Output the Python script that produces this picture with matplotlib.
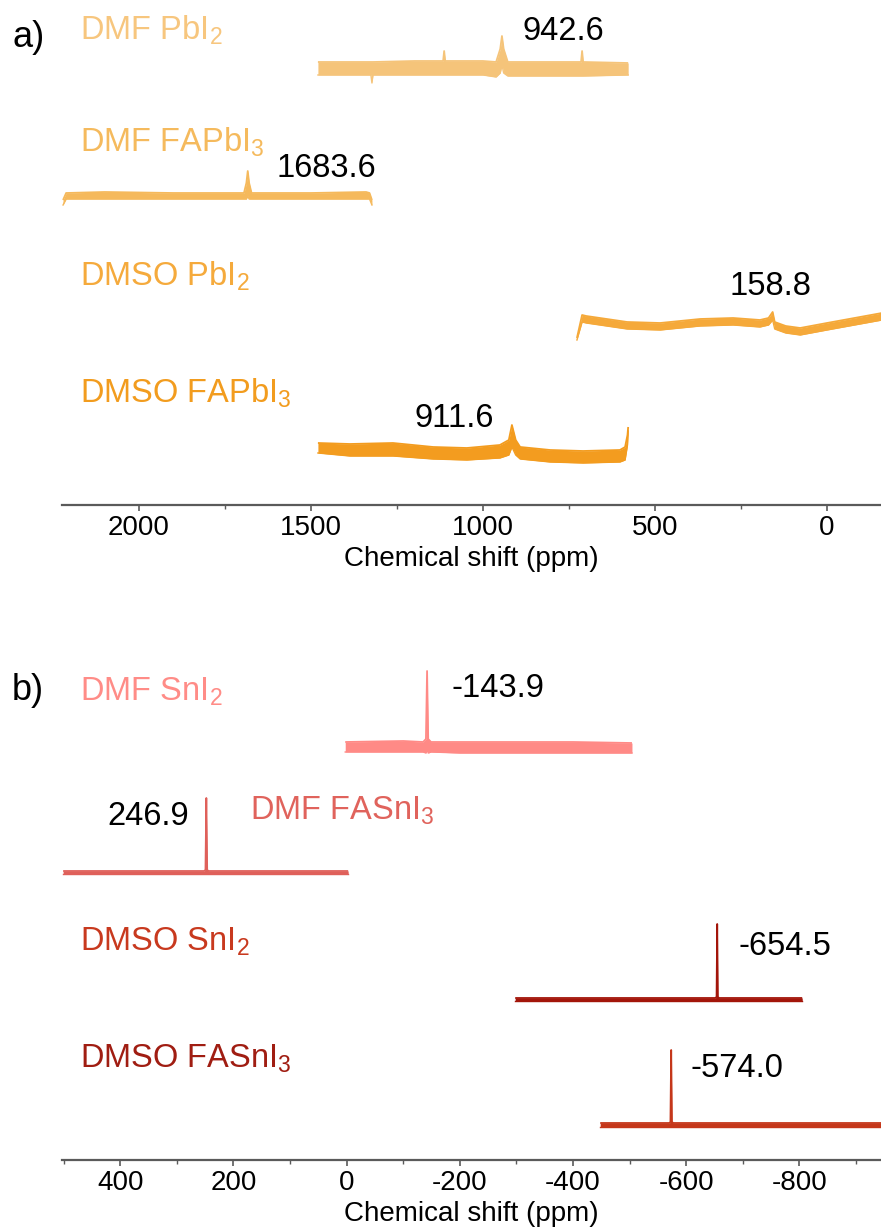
#!/usr/bin/env python3
"""
plot.py — stacked 207Pb / 119Sn NMR spectra of the precursor solutions.

Panel a) Pb spectra, panel b) Sn spectra; each trace is drawn as a noise band
(upper/lower envelope read off the original figure) with its peak position
annotated. Writes out.png.
"""
import matplotlib.pyplot as plt
from matplotlib.ticker import MultipleLocator

# ---- panel a: Pb spectra (ppm, envelope in arbitrary intensity units) ----
dmf_pbi2_ppm = [1480, 1400, 1326, 1323, 1320, 1200, 1116, 1113, 1110, 1000,
                962, 950, 945, 940, 928, 800, 715, 712, 709, 578]
dmf_pbi2_hi = [443, 443, 443, 443, 443, 444, 444, 454, 444, 444,
               443, 456, 469, 456, 443, 443, 443, 454, 443, 442]
dmf_pbi2_lo = [430, 430, 430, 422, 430, 430, 430, 430, 430, 430,
               428, 432, 440, 432, 429, 429, 429, 429, 429, 430]

dmf_fapbi3_ppm = [2221, 2212, 2100, 1900, 1720, 1695, 1688, 1684, 1680, 1673,
                  1500, 1340, 1330, 1323]
dmf_fapbi3_hi = [305, 312, 313, 312, 312, 312, 322, 334, 322, 312,
                 312, 313, 312, 305]
dmf_fapbi3_lo = [300, 306, 306, 306, 306, 306, 306, 309, 306, 306,
                 306, 306, 306, 300]

dmso_pbi2_ppm = [727, 712, 700, 581, 485, 369, 273, 195, 170, 158, 152, 120,
                 78, 0, -96, -160]
dmso_pbi2_hi = [167, 190, 189, 183, 182, 186, 187, 185, 187, 193, 183, 179,
                177, 182, 188, 192]
dmso_pbi2_lo = [165, 183, 182, 176, 175, 179, 180, 178, 180, 185, 176, 172,
                170, 175, 181, 185]

dmso_fapbi3_ppm = [1480, 1387, 1262, 1145, 1047, 951, 925, 916, 905, 892,
                   805, 709, 602, 587, 580, 578]
dmso_fapbi3_hi = [62, 61, 62, 58, 57, 60, 65, 80, 65, 58,
                  55, 54, 55, 58, 70, 78]
dmso_fapbi3_lo = [52, 49, 49, 46, 45, 47, 50, 58, 50, 46,
                  43, 42, 43, 45, 60, 74]

# ---- panel b: Sn spectra ----
dmf_sni2_ppm = [2.6, -100, -135, -140, -142, -144, -149, -200, -400, -504]
dmf_sni2_hi = [418, 419, 418, 421, 489, 421, 418, 418, 418, 417]
dmf_sni2_lo = [408, 408, 408, 407, 410, 407, 408, 407, 407, 407]

dmf_fasni3_ppm = [501, 400, 252, 249.5, 248, 246.5, 244, 100, -2.6]
dmf_fasni3_hi = [289, 289, 289, 290, 362, 290, 289, 289, 289]
dmf_fasni3_lo = [286, 286, 286, 286, 286, 286, 286, 286, 286]

dmso_sni2_ppm = [-297.7, -500, -651, -653.5, -654.6, -655.7, -658, -700, -804.8]
dmso_sni2_hi = [162, 162, 162, 163, 236, 163, 162, 162, 162]
dmso_sni2_lo = [159, 159, 159, 159, 159, 159, 159, 159, 159]

dmso_fasni3_ppm = [-447.9, -550, -570, -572, -573.3, -574.6, -577, -700, -850, -960]
dmso_fasni3_hi = [37, 37, 37, 38, 110, 38, 37, 37, 37, 37]
dmso_fasni3_lo = [33, 33, 33, 33, 33, 33, 33, 33, 33, 33]

# sample names and peak labels per panel
names_a = ["DMF PbI$_2$", "DMF FAPbI$_3$", "DMSO PbI$_2$", "DMSO FAPbI$_3$"]
names_b = ["DMF SnI$_2$", "DMF FASnI$_3$", "DMSO SnI$_2$", "DMSO FASnI$_3$"]
peaks_a = ["942.6", "1683.6", "158.8", "911.6"]
peaks_b = ["-143.9", "246.9", "-654.5", "-574.0"]

line_a = ["#F5C47A", "#F5B95C", "#F5A93A", "#F39C1F"]
text_a = ["#F7C67E", "#F5BA5D", "#F5AA3C", "#F29C1E"]
line_b = ["#FF8A86", "#DF605A", "#A3150A", "#C5371A"]
text_b = ["#FF8C87", "#E0635C", "#C8391E", "#A01D12"]

plt.rcParams["font.family"] = ["Liberation Sans", "DejaVu Sans"]
plt.rcParams["mathtext.fontset"] = "custom"
plt.rcParams["mathtext.rm"] = "Liberation Sans"
plt.rcParams["mathtext.it"] = "Liberation Sans:italic"
plt.rcParams["axes.unicode_minus"] = False

W, H = 881, 1227
FS = 23.5


def style_axis(ax, major, minor):
    for s in ("left", "right", "top"):
        ax.spines[s].set_visible(False)
    ax.spines["bottom"].set_color("#5a5a5a")
    ax.spines["bottom"].set_linewidth(1.6)
    ax.set_yticks([])
    ax.xaxis.set_major_locator(MultipleLocator(major))
    ax.xaxis.set_minor_locator(MultipleLocator(minor))
    ax.tick_params(axis="x", which="major", length=4, width=1.2,
                   color="#5a5a5a", labelsize=20, pad=3)
    ax.tick_params(axis="x", which="minor", length=3, width=1.0,
                   color="#5a5a5a")
    ax.set_xlabel("Chemical shift (ppm)", fontsize=20, labelpad=4)


def draw(ax, ppm, hi, lo, color):
    ax.fill_between(ppm, lo, hi, color=color, linewidth=0)
    ax.plot(ppm, hi, color=color, lw=1.3, solid_capstyle="butt")
    ax.plot(ppm, lo, color=color, lw=1.0)


def main():
    fig = plt.figure(figsize=(W / 100, H / 100), dpi=100)

    # ---- panel a ----
    axa = fig.add_axes([62 / W, 1 - 505 / H, (W - 62) / W, 505 / H])
    axa.set_xlim(2224, -157)
    axa.set_ylim(0, 505)
    style_axis(axa, 500, 250)
    specs_a = [(dmf_pbi2_ppm, dmf_pbi2_hi, dmf_pbi2_lo),
               (dmf_fapbi3_ppm, dmf_fapbi3_hi, dmf_fapbi3_lo),
               (dmso_pbi2_ppm, dmso_pbi2_hi, dmso_pbi2_lo),
               (dmso_fapbi3_ppm, dmso_fapbi3_hi, dmso_fapbi3_lo)]
    for (p, h, l), c in zip(specs_a, line_a):
        draw(axa, p, h, l, c)
    name_y_a = [465, 353, 219, 102]
    for n, y, c in zip(names_a, name_y_a, text_a):
        axa.text(2172, y, n, color=c, fontsize=FS, ha="left", va="baseline")
    peak_pos_a = [(884, 465), (1599, 328), (282, 210), (1198, 78)]
    for t, (x, y) in zip(peaks_a, peak_pos_a):
        axa.text(x, y, t, color="black", fontsize=FS, ha="left", va="baseline")

    # ---- panel b ----
    axb = fig.add_axes([62 / W, 1 - 1160 / H, (W - 62) / W, 560 / H])
    axb.set_xlim(503, -944)
    axb.set_ylim(0, 560)
    style_axis(axb, 200, 100)
    specs_b = [(dmf_sni2_ppm, dmf_sni2_hi, dmf_sni2_lo),
               (dmf_fasni3_ppm, dmf_fasni3_hi, dmf_fasni3_lo),
               (dmso_sni2_ppm, dmso_sni2_hi, dmso_sni2_lo),
               (dmso_fasni3_ppm, dmso_fasni3_hi, dmso_fasni3_lo)]
    for (p, h, l), c in zip(specs_b, line_b):
        draw(axb, p, h, l, c)
    name_pos_b = [(471, 459), (170, 340), (471, 209), (471, 92)]
    for n, (x, y), c in zip(names_b, name_pos_b, text_b):
        axb.text(x, y, n, color=c, fontsize=FS, ha="left", va="baseline")
    peak_pos_b = [(-186, 463), (423, 335), (-691.5, 205), (-607, 83)]
    for t, (x, y) in zip(peaks_b, peak_pos_b):
        axb.text(x, y, t, color="black", fontsize=FS, ha="left", va="baseline")

    fig.text(12 / W, 1 - 47 / H, "a)", fontsize=26, ha="left", va="baseline")
    fig.text(12 / W, 1 - 700 / H, "b)", fontsize=26, ha="left", va="baseline")

    fig.savefig("out.png", dpi=100)


if __name__ == "__main__":
    main()
